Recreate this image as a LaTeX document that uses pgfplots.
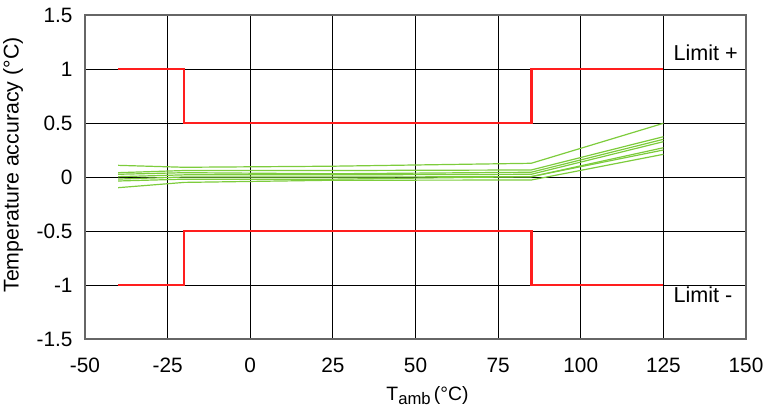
\documentclass[border=0pt]{standalone}
\usepackage{pgfplots}
\pgfplotsset{compat=1.18}
\usepackage{fontspec}
\setmainfont{Liberation Sans}
\definecolor{lgreen}{RGB}{125,204,60}
\definecolor{lred}{RGB}{255,30,30}
\begin{document}
\fontsize{14}{17}\selectfont
\begin{tikzpicture}
\begin{axis}[
  scale only axis,
  width=495.75pt, height=243pt,
  xmin=-50, xmax=150, ymin=-1.5, ymax=1.5,
  xtick={-50,-25,0,25,50,75,100,125,150},
  ytick={-1.5,-1,-0.5,0,0.5,1,1.5},
  yticklabels={-1.5,-1,-0.5,0,0.5,1,1.5},
  xticklabels={-50,-25,0,25,50,75,100,125,150},
  /pgf/number format/assume math mode=true,
  major tick length=0pt,
  grid=major,
  major grid style={black, line width=0.6pt},
  axis line style={gray!80!black, line width=0.8pt},
  tick label style={font=\fontsize{15.6}{18}\selectfont},
  xticklabel style={yshift=-9.5pt},
  yticklabel style={xshift=-4.5pt},
  xlabel={T\raisebox{-0.35ex}{\fontsize{12.5}{14}\selectfont amb}\,(°C)},
  ylabel={Temperature accuracy (°C)},
  xlabel style={yshift=-1pt, xshift=9pt, font=\fontsize{14.5}{17}\selectfont},
  ylabel style={yshift=0.75pt, xshift=9pt, font=\fontsize{16}{19}\selectfont},
  clip=false,
]
\addplot[lred, line width=2pt] coordinates {(-40,1) (-20,1) (-20,0.5) (85,0.5) (85,1) (125,1)};
\addplot[lred, line width=2pt] coordinates {(-40,-1) (-20,-1) (-20,-0.5) (85,-0.5) (85,-1) (125,-1)};
\addplot[lgreen, line width=0.9pt] coordinates {(-40,0.108) (-20,0.09) (25,0.10) (85,0.127) (125,0.497)};
\addplot[lgreen, line width=0.9pt] coordinates {(-40,0.040) (-20,0.06) (25,0.06) (85,0.065) (125,0.373)};
\addplot[lgreen, line width=0.9pt] coordinates {(-40,0.025) (-20,0.04) (25,0.03) (85,0.044) (125,0.349)};
\addplot[lgreen, line width=0.9pt] coordinates {(-40,0.003) (-20,0.02) (25,0.02) (85,0.025) (125,0.327)};
\addplot[lgreen, line width=0.9pt] coordinates {(-40,-0.019) (-20,0.0) (25,0.0) (85,0.003) (125,0.271)};
\addplot[lgreen, line width=0.9pt] coordinates {(-40,-0.037) (-20,-0.02) (25,-0.02) (85,0.003) (125,0.25)};
\addplot[lgreen, line width=0.9pt] coordinates {(-40,-0.099) (-20,-0.05) (25,-0.03) (85,-0.028) (125,0.210)};
\node[anchor=west, inner sep=0pt, font=\fontsize{16.2}{19}\selectfont] at (axis cs:128,1.15) {Limit +};
\node[anchor=west, inner sep=0pt, font=\fontsize{16.2}{19}\selectfont] at (axis cs:128,-1.09) {Limit -};
\coordinate (sw) at (rel axis cs:0,0);
\coordinate (ne) at (rel axis cs:1,1);
\end{axis}
\pgfresetboundingbox
\path ([shift={(-63.75pt,-51pt)}]sw) rectangle ([shift={(17.25pt,11.25pt)}]ne);
\end{tikzpicture}
\end{document}
